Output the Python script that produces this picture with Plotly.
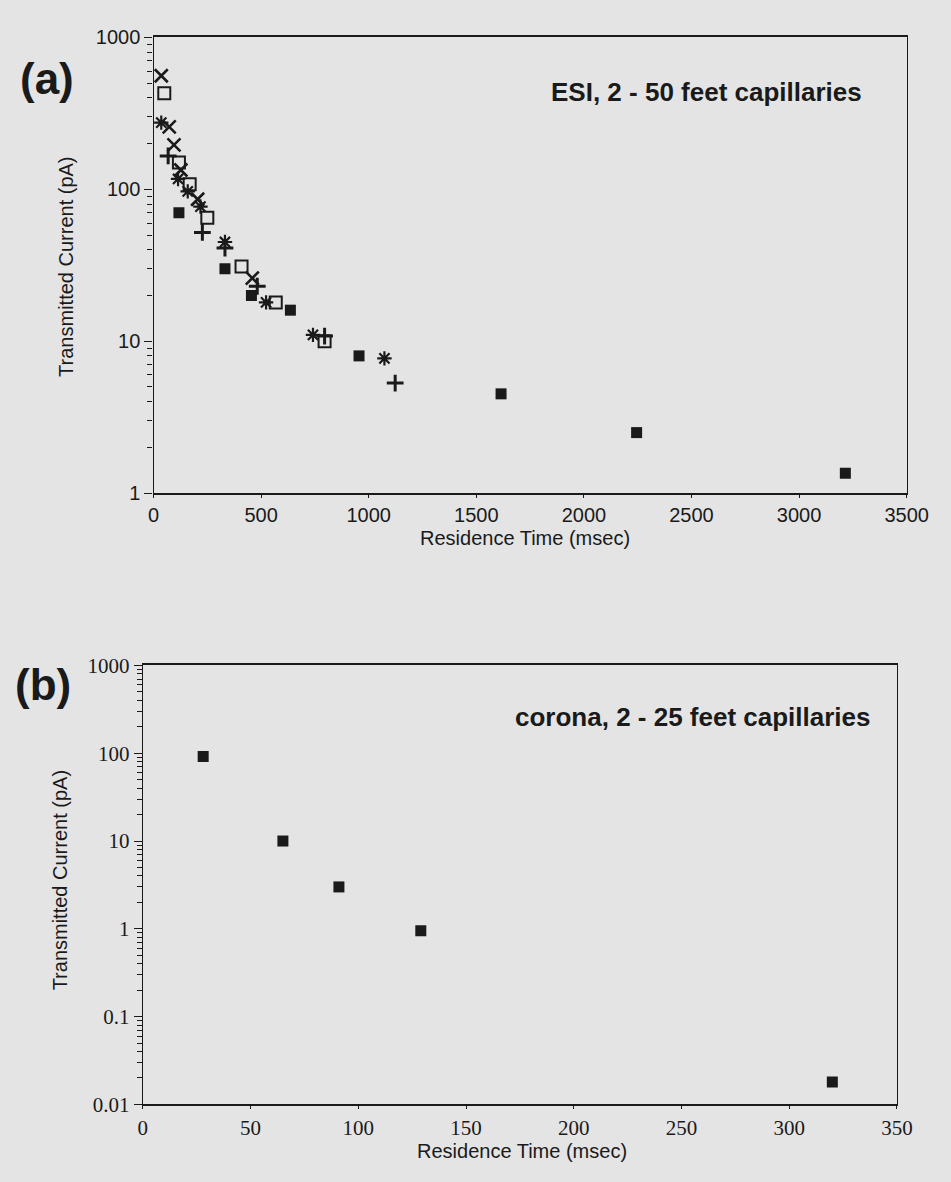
import plotly.graph_objects as go

W, H = 951, 1182

# ---------------- Panel (a): ESI, 2 - 50 feet capillaries ----------------
sq_fill_x = [118, 332, 455, 636, 955, 1615, 2245, 3215]
sq_fill_y = [70, 30, 20, 16, 8.0, 4.5, 2.5, 1.35]
sq_open_x = [50, 118, 168, 250, 409, 568, 795]
sq_open_y = [430, 150, 108, 65, 31, 18, 10]
xmark_x = [36, 73, 95, 127, 205, 459]
xmark_y = [560, 258, 196, 134, 86, 26]
ast_x = [36, 114, 159, 218, 332, 523, 741, 1073]
ast_y = [275, 117, 97, 77, 45, 18, 11, 7.7]
plus_x = [68, 227, 332, 482, 795, 1123]
plus_y = [166, 52, 41, 23, 10.8, 5.3]

# ---------------- Panel (b): corona, 2 - 25 feet capillaries -------------
corona_x = [28, 65, 91, 129, 320]
corona_y = [92, 10, 3.0, 0.95, 0.018]

# ---------------- tick labels ----------------
a_xticks = [0, 500, 1000, 1500, 2000, 2500, 3000, 3500]
a_yticks = [1, 10, 100, 1000]
a_ytext = ["1", "10", "100", "1000"]
b_xticks = [0, 50, 100, 150, 200, 250, 300, 350]
b_yticks = [0.01, 0.1, 1, 10, 100, 1000]
b_ytext = ["0.01", "0.1", "1", "10", "100", "1000"]

SANS = "Liberation Sans, Arial, Helvetica, sans-serif"
SERIF = "Liberation Serif, Times New Roman, serif"
INK = "#1a1a1a"
BG = "#e4e4e4"


def px(x):
    return x / W


def py(y):
    return 1 - y / H


def minor_vals(lo, hi):
    out = []
    for e in range(lo, hi):
        for m in range(2, 10):
            out.append(m * 10 ** e)
    return out


fig = go.Figure()

mk = dict(mode="markers", showlegend=False, xaxis="x", yaxis="y")
fig.add_trace(go.Scatter(x=sq_fill_x, y=sq_fill_y, name="filled square",
                         marker=dict(symbol="square", size=11, color=INK,
                                     line=dict(width=0)), **mk))
fig.add_trace(go.Scatter(x=sq_open_x, y=sq_open_y, name="open square",
                         marker=dict(symbol="square-open", size=12, color=INK,
                                     line=dict(width=2, color=INK)), **mk))
fig.add_trace(go.Scatter(x=xmark_x, y=xmark_y, name="x",
                         marker=dict(symbol="x-thin", size=13, color=INK,
                                     line=dict(width=2.6, color=INK)), **mk))
fig.add_trace(go.Scatter(x=ast_x, y=ast_y, name="asterisk",
                         marker=dict(symbol="asterisk", size=12, color=INK,
                                     line=dict(width=2.2, color=INK)), **mk))
fig.add_trace(go.Scatter(x=plus_x, y=plus_y, name="plus",
                         marker=dict(symbol="cross-thin", size=12, color=INK,
                                     line=dict(width=3, color=INK)), **mk))

fig.add_trace(go.Scatter(x=corona_x, y=corona_y, mode="markers", showlegend=False,
                         name="corona", xaxis="x2", yaxis="y2",
                         marker=dict(symbol="square", size=11, color=INK,
                                     line=dict(width=0))))

axis_common = dict(showgrid=False, zeroline=False, showline=True, mirror=True,
                   linecolor=INK, ticks="outside", tickcolor=INK)

fig.update_layout(
    width=W, height=H,
    margin=dict(l=0, r=0, t=0, b=0),
    paper_bgcolor=BG, plot_bgcolor=BG,
    showlegend=False,
    xaxis=dict(domain=[px(152), px(928)], range=[0, 3500], anchor="y",
               tickvals=a_xticks, ticklen=3, tickwidth=1.2, linewidth=2,
               tickfont=dict(family=SANS, size=20, color=INK),
               **axis_common),
    yaxis=dict(domain=[py(491), py(26)], type="log", range=[0, 3], anchor="x",
               tickvals=a_yticks, ticktext=a_ytext, ticklen=8, tickwidth=1.2,
               linewidth=1.4,
               minor=dict(tickvals=minor_vals(0, 3), ticks="outside", ticklen=5,
                          tickwidth=1, tickcolor=INK),
               tickfont=dict(family=SANS, size=20, color=INK),
               **axis_common),
    xaxis2=dict(domain=[px(141), px(918)], range=[0, 350], anchor="y2",
                tickvals=b_xticks, ticklen=3, tickwidth=1.2, linewidth=2,
                tickfont=dict(family=SERIF, size=21, color=INK),
                **axis_common),
    yaxis2=dict(domain=[py(1115), py(667)], type="log", range=[-2, 3], anchor="x2",
                tickvals=b_yticks, ticktext=b_ytext, ticklen=8, tickwidth=1.2,
                linewidth=1.4,
                minor=dict(tickvals=minor_vals(-2, 3), ticks="outside", ticklen=5,
                           tickwidth=1, tickcolor=INK),
                tickfont=dict(family=SERIF, size=21, color=INK),
                **axis_common),
)


def note(text, x, y, size, angle=0, xanchor="center", bold=False):
    fig.add_annotation(text=f"<b>{text}</b>" if bold else text,
                       x=px(x), y=py(y), xref="paper", yref="paper",
                       showarrow=False, xanchor=xanchor, yanchor="middle",
                       textangle=angle,
                       font=dict(family=SANS, size=size, color=INK))


# panel labels
note("(a)", 42, 68, 44, bold=True)
note("(b)", 38, 686, 44, bold=True)
# in-plot titles
note("ESI, 2 - 50 feet capillaries", 884, 82, 26, xanchor="right", bold=True)
note("corona, 2 - 25 feet capillaries", 893, 720, 26, xanchor="right", bold=True)
# axis titles
note("Transmitted Current (pA)", 62, 260, 20, angle=-90)
note("Transmitted Current (pA)", 56, 886, 20, angle=-90)
note("Residence Time (msec)", 535, 537, 20)
note("Residence Time (msec)", 532, 1163, 20)

fig.write_html("out.html")
